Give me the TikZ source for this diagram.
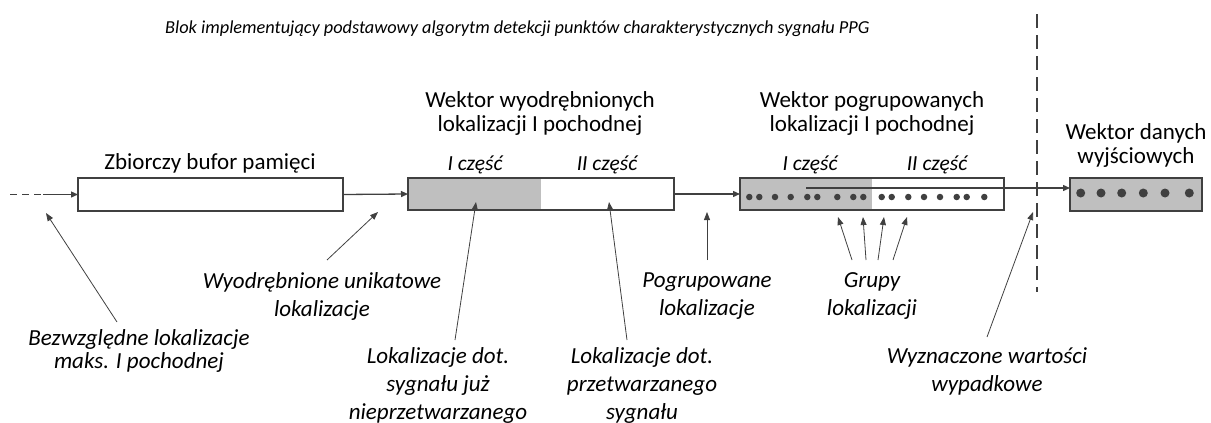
\documentclass[tikz,border=0pt]{standalone}
\usepackage{fontspec}
\setmainfont{Carlito}
\usetikzlibrary{arrows.meta}
\definecolor{ink}{HTML}{404040}
\definecolor{boxgray}{HTML}{BFBFBF}
\begin{document}
\begin{tikzpicture}[x=1pt,y=-1pt,
  box/.style={draw=ink, line width=2.2pt, minimum height=33pt, inner sep=0, outer sep=0},
  flow/.style={draw=ink, line width=1.3pt, -{Triangle[length=7pt,width=6pt]}},
  note/.style={draw=ink, line width=0.8pt, -{Triangle[length=8pt,width=6pt]}},
  heading/.style={font=\fontsize{23}{24}\selectfont, align=center, inner sep=0},
  part/.style={font=\fontsize{21.5}{24}\selectfont\itshape, inner sep=0},
  label/.style={font=\fontsize{23}{28}\selectfont\itshape, align=center, inner sep=0},
  dot/.style={circle, fill=ink, inner sep=0, minimum size=6.5pt},
  bigdot/.style={circle, fill=ink, inner sep=0, minimum size=9pt}
]
\useasboundingbox (0,0) rectangle (1211,423);

% block caption
\node[anchor=west, inner sep=0, font=\fontsize{18.3}{20}\selectfont\itshape] (caption) at (165,29)
  {Blok implementujący podstawowy algorytm detekcji punktów charakterystycznych sygnału PPG};

% memory buffer
\node[box, minimum width=265pt] (buf) at (210.5,194.5) {};
\node[heading] (bufT) at (210,163) {Zbiorczy bufor pamięci};

% vector of extracted locations
\fill[boxgray] (408,178) rectangle (541,210);
\node[box, minimum width=266pt, minimum height=32pt] (ext) at (541,194) {};
\node[heading] (extT) at (540,113) {Wektor wyodrębnionych\\lokalizacji I pochodnej};
\node[part] (extA) at (475,165) {I część};
\node[part] (extB) at (607,165) {II część};

% vector of grouped locations
\fill[boxgray] (740,178) rectangle (872,210);
\node[box, minimum width=264pt, minimum height=32pt] (grp) at (872,194) {};
\node[heading] (grpT) at (872,113) {Wektor pogrupowanych\\lokalizacji I pochodnej};
\node[part] (grpA) at (810,165) {I część};
\node[part] (grpB) at (937,165) {II część};
\foreach \x in {749.3,759.3,775,790.7,807.3,817.3,837.3,853.3,863.3,881.7,891.7,908.3,924,940,956.7,966.7,984.3}
  \node[dot] at (\x,197) {};

% output vector
\node[box, fill=boxgray, minimum width=132pt] (out) at (1136,194.5) {};
\node[heading] (outT) at (1136,145) {Wektor danych\\wyjściowych};
\foreach \x in {1080.7,1101,1121.7,1143.3,1165,1189.3}
  \node[bigdot] at (\x,193) {};

% block boundary
\draw[ink, line width=1.8pt, dash pattern=on 14pt off 7pt] (1037,14) -- (1037,292);

% data flow
\coordinate (in0) at (10,194.5);
\coordinate (in1) at (43,194.5);
\draw[ink, line width=1.3pt, dash pattern=on 7pt off 5pt] (in0) -- (in1);
\draw[flow] (in1) -- (buf.west);
\draw[flow] (buf.east) -- (ext.west);
\draw[flow] (ext.east) -- (grp.west);
\coordinate (gs) at (806,188);
\draw[flow] (gs) -- (gs -| out.west);

% annotations
\node[label, font=\fontsize{23}{23}\selectfont\itshape] (l1) at (139,351) {Bezwzględne lokalizacje\\maks. I pochodnej};
\node[label] (l2) at (322,296) {Wyodrębnione unikatowe\\lokalizacje};
\node[label] (l3) at (438,385) {Lokalizacje dot.\\sygnału już\\nieprzetwarzanego};
\node[label] (l4) at (642,385) {Lokalizacje dot.\\przetwarzanego\\sygnału};
\node[label] (l5) at (707,296) {Pogrupowane\\lokalizacje};
\node[label] (l6) at (872,296) {Grupy\\lokalizacji};
\node[label] (l7) at (987,371) {Wyznaczone wartości\\wypadkowe};

\coordinate (a1) at (117,322); \coordinate (b1) at (46,213);
\coordinate (a2) at (327,260); \coordinate (b2) at (378,212);
\coordinate (a3) at (455,340); \coordinate (b3) at (476,202);
\coordinate (a4) at (627,340); \coordinate (b4) at (609,202);
\coordinate (a5) at (707,260); \coordinate (b5) at (707,212);
\coordinate (a6) at (852,260); \coordinate (b6) at (838,217);
\coordinate (a7) at (866,260); \coordinate (b7) at (863,217);
\coordinate (a8) at (878,260); \coordinate (b8) at (884,217);
\coordinate (a9) at (893,260); \coordinate (b9) at (907,217);
\coordinate (a10) at (987,337); \coordinate (b10) at (1033,212);
\foreach \i in {1,...,10} \draw[note] (a\i) -- (b\i);
\end{tikzpicture}
\end{document}
